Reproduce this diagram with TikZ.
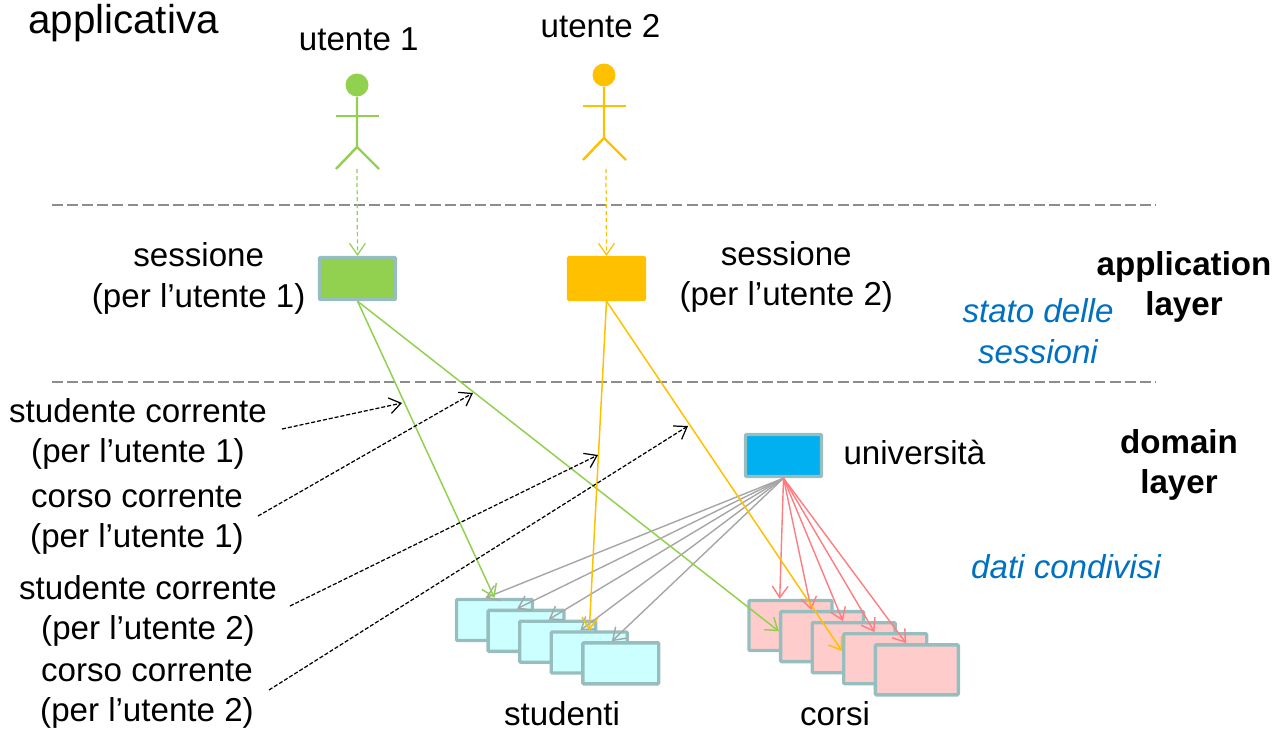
\documentclass[tikz,border=0pt]{standalone}
\usepackage{fontspec}
\setmainfont{Liberation Sans}
\usetikzlibrary{arrows.meta, positioning}
\definecolor{bordo}{RGB}{151,190,190}
\definecolor{verde}{RGB}{146,208,80}
\definecolor{giallo}{RGB}{255,192,0}
\definecolor{azzurro}{RGB}{0,176,240}
\definecolor{rosa}{RGB}{255,124,128}
\definecolor{grigio}{RGB}{166,166,166}
\definecolor{blu}{RGB}{0,112,192}
\definecolor{celeste}{RGB}{204,255,255}
\definecolor{pesca}{RGB}{255,204,204}
\newcommand{\testo}{\fontsize{18.85}{23}\selectfont}

\begin{document}
\begin{tikzpicture}[x=0.02cm, y=-0.02cm, >={Straight Barb[length=6.5pt,width=9pt]},
    etich/.style={align=center, inner sep=0pt, font=\testo},
    layer/.style={align=center, inner sep=0pt, font=\testo\bfseries},
    stato/.style={align=center, inner sep=0pt, font=\testo\itshape, blu},
    testa/.style={circle, inner sep=0pt, minimum size=0.46cm},
    sessbox/.style={draw=bordo, line width=1.9pt, rounded corners=0.6pt, minimum width=1.52cm, minimum height=0.84cm},
    studbox/.style={draw=bordo, fill=celeste, line width=1.9pt, rounded corners=0.6pt, minimum width=1.52cm, minimum height=0.82cm},
    corsobox/.style={draw=bordo, fill=pesca, line width=1.9pt, rounded corners=0.6pt, minimum width=1.66cm, minimum height=1cm},
    studnext/.style={studbox, below right=-0.67cm and -0.955cm of #1},
    corsonext/.style={corsobox, below right=-0.845cm and -1.095cm of #1},
    sep/.style={grigio!85!black, line width=0.85pt, dash pattern=on 6.2pt off 2.4pt},
    corrente/.style={->, line width=0.7pt, dash pattern=on 2.3pt off 1.1pt}]
    \useasboundingbox (0,0) rectangle (1282,733);

    \coordinate (sepa1) at (52,205);
    \coordinate (sepa2) at (1156,205);
    \coordinate (sepb1) at (52,382);
    \coordinate (sepb2) at (1156,382);
    \draw[sep] (sepa1) -- (sepa2);
    \draw[sep] (sepb1) -- (sepb2);

    \node[etich, font=\fontsize{22.95}{26}\selectfont] (appl) at (123.5,23) {applicativa};

    \node[testa, fill=verde] (testa1) at (357,85) {};
    \node[etich, above=0.44cm of testa1, xshift=1pt] (utente1) {utente 1};
    \coordinate (anca1) at (357,147);
    \coordinate (piede1) at (357,169);
    \draw[verde, line width=1.4pt] (testa1.south) -- (anca1) -- (336,169);
    \draw[verde, line width=1.4pt] (anca1) -- (379,169);
    \draw[verde, line width=1.4pt] (336,116) -- (379,116);

    \node[testa, fill=giallo] (testa2) at (604,75) {};
    \node[etich, above=0.5cm of testa2, xshift=-2pt] (utente2) {utente 2};
    \coordinate (anca2) at (604,138);
    \coordinate (piede2) at (606,169);
    \draw[giallo, line width=1.4pt] (testa2.south) -- (anca2) -- (583,160);
    \draw[giallo, line width=1.4pt] (anca2) -- (626,160);
    \draw[giallo, line width=1.4pt] (583,106) -- (626,106);

    \node[sessbox, fill=verde] (sess1) at (357.5,278.5) {};
    \node[sessbox, draw=giallo, fill=giallo] (sess2) at (606.5,278.5) {};
    \node[etich, left=0.24cm of sess1] (lab1) {sessione\\(per l’utente 1)};
    \node[etich, right=0.66cm of sess2, yshift=1pt] (lab2) {sessione\\(per l’utente 2)};
    \node[layer] (applayer) at (1184,287) {application\\layer};
    \node[stato] (statosess) at (1038,331) {stato delle\\sessioni};

    \node[sessbox, fill=azzurro] (univ) at (783.5,455.5) {};
    \node[etich, right=0.4cm of univ, yshift=2pt] (labuniv) {università};
    \node[layer] (domlayer) at (1179,465) {domain\\layer};
    \node[stato] (daticond) at (1066,567) {dati condivisi};

    \node[etich] (cor1) at (138,434) {studente corrente\\(per l’utente 1)};
    \node[etich] (cor2) at (137,520) {corso corrente\\(per l’utente 1)};
    \node[etich] (cor3) at (148,611) {studente corrente\\(per l’utente 2)};
    \node[etich] (cor4) at (147,694) {corso corrente\\(per l’utente 2)};

    \node[studbox] (stud1) at (494.5,620) {};
    \node[studnext=stud1] (stud2) {};
    \node[studnext=stud2] (stud3) {};
    \node[studnext=stud3] (stud4) {};
    \node[studnext=stud4] (stud5) {};
    \node[etich] (labstud) at (562,714) {studenti};

    \node[corsobox] (corso1) at (790.5,625.5) {};
    \node[corsonext=corso1] (corso2) {};
    \node[corsonext=corso2] (corso3) {};
    \node[corsonext=corso3] (corso4) {};
    \node[corsonext=corso4] (corso5) {};
    \node[etich] (labcorsi) at (835,714) {corsi};

    \draw[->, verde, line width=0.7pt, dash pattern=on 2.3pt off 1.7pt] (piede1) -- (sess1.north);
    \draw[->, giallo, line width=0.7pt, dash pattern=on 2.3pt off 1.7pt] (piede2) -- (sess2.north);

    \draw[->, grigio, line width=0.8pt] (univ.south) -- (stud1.112);
    \draw[->, grigio, line width=0.8pt] (univ.south) -- (stud2.112);
    \draw[->, grigio, line width=0.8pt] (univ.south) -- (stud3.112);
    \draw[->, grigio, line width=0.8pt] (univ.south) -- (stud4.112);
    \draw[->, grigio, line width=0.8pt] (univ.south) -- (stud5.112);
    \draw[->, rosa, line width=0.8pt] (univ.south) -- (corso1.112);
    \draw[->, rosa, line width=0.8pt] (univ.south) -- (corso2.112);
    \draw[->, rosa, line width=0.8pt] (univ.south) -- (corso3.112);
    \draw[->, rosa, line width=0.8pt] (univ.south) -- (corso4.112);
    \draw[->, rosa, line width=0.8pt] (univ.south) -- (corso5.112);

    \draw[->, verde, line width=0.85pt] (sess1.south) -- (stud1.north);
    \draw[->, verde, line width=0.85pt] (sess1.south) -- (corso2.173);
    \draw[->, giallo, line width=0.85pt] (sess2.south) -- (stud4.north);
    \draw[->, giallo, line width=0.85pt] (sess2.south) -- (corso4.170);

    \coordinate (da1) at (282,429);
    \coordinate (a1) at (402,403);
    \coordinate (da2) at (258,516);
    \coordinate (a2) at (473,393);
    \coordinate (da3) at (290,606);
    \coordinate (a3) at (598,455);
    \coordinate (da4) at (269,690);
    \coordinate (a4) at (688,426);
    \draw[corrente] (da1) -- (a1);
    \draw[corrente] (da2) -- (a2);
    \draw[corrente] (da3) -- (a3);
    \draw[corrente] (da4) -- (a4);
\end{tikzpicture}
\end{document}
